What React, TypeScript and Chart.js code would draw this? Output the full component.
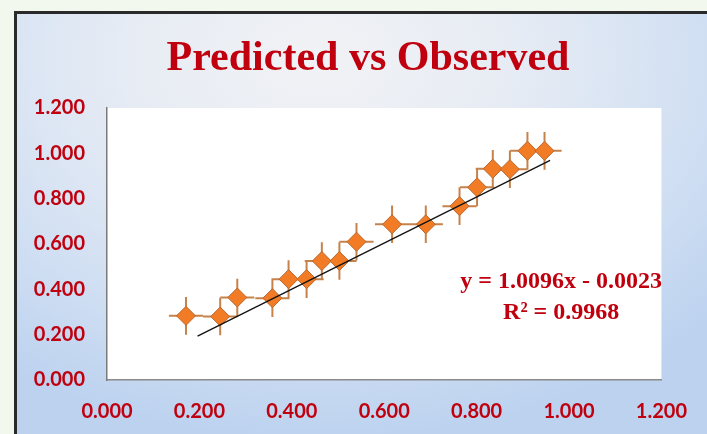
import React, { useEffect, useRef } from "react";
import { Chart, registerables } from "chart.js";

Chart.register(...registerables);

// Observed (x) vs Predicted (y) values
const observedX = [0.171, 0.245, 0.282, 0.358, 0.393, 0.432, 0.465, 0.503, 0.540, 0.617, 0.690, 0.763, 0.801, 0.835, 0.872, 0.910, 0.947];
const predictedY = [0.283, 0.280, 0.364, 0.361, 0.445, 0.445, 0.525, 0.525, 0.610, 0.687, 0.687, 0.767, 0.850, 0.932, 0.930, 1.011, 1.011];

// Error bar half-widths
const xError = [0.037, 0.037, 0.037, 0.037, 0.037, 0.037, 0.037, 0.037, 0.037, 0.037, 0.037, 0.037, 0.037, 0.037, 0.037, 0.037, 0.037];
const yError = [0.083, 0.083, 0.083, 0.083, 0.083, 0.083, 0.083, 0.083, 0.083, 0.083, 0.083, 0.083, 0.083, 0.083, 0.083, 0.083, 0.083];

// Linear trendline end points
const trendX = [0.196, 0.959];
const trendY = [0.194, 0.969];

const axisTicks = [0, 0.2, 0.4, 0.6, 0.8, 1.0, 1.2];

const titleText = "Predicted vs Observed";
const equationText = "y = 1.0096x - 0.0023";
const r2Text = "R\u00B2 = 0.9968";

const RED = "#C0000E";

export default function App() {
  const ref = useRef<HTMLCanvasElement | null>(null);

  useEffect(() => {
    if (!ref.current) return;

    const points = observedX.map((x, i) => ({ x, y: predictedY[i] }));
    const errSegments: { x: number; y: number | null }[] = [];
    observedX.forEach((x, i) => {
      const y = predictedY[i];
      errSegments.push({ x: x - xError[i], y });
      errSegments.push({ x: x + xError[i], y });
      errSegments.push({ x, y: null });
      errSegments.push({ x, y: y - yError[i] });
      errSegments.push({ x, y: y + yError[i] });
      errSegments.push({ x, y: null });
    });
    const trend = trendX.map((x, i) => ({ x, y: trendY[i] }));

    const plotBg = {
      id: "plotBg",
      beforeDraw(chart: any) {
        const { ctx, chartArea } = chart;
        ctx.save();
        ctx.fillStyle = "#ffffff";
        ctx.fillRect(chartArea.left, chartArea.top, chartArea.right - chartArea.left, chartArea.bottom - chartArea.top);
        ctx.restore();
      },
    };

    const chartTitle = {
      id: "chartTitle",
      afterDraw(chart: any) {
        const { ctx } = chart;
        ctx.save();
        ctx.fillStyle = RED;
        ctx.font = "bold 42px 'Liberation Serif', serif";
        ctx.textAlign = "center";
        ctx.textBaseline = "alphabetic";
        ctx.fillText(titleText, 368, 70);
        ctx.restore();
      },
    };

    const equation = {
      id: "equation",
      afterDatasetsDraw(chart: any) {
        const { ctx, scales } = chart;
        const cx = scales.x.getPixelForValue(0.983);
        const y1 = scales.y.getPixelForValue(0.435);
        const y2 = scales.y.getPixelForValue(0.295);
        ctx.save();
        ctx.fillStyle = RED;
        ctx.font = "bold 24px 'Liberation Serif', serif";
        ctx.textAlign = "center";
        ctx.textBaseline = "middle";
        ctx.fillText(equationText, cx, y1);
        ctx.fillText(r2Text, cx, y2);
        ctx.restore();
      },
    };

    const tickFont = { family: "Lato, 'Liberation Sans', sans-serif", size: 20, weight: "bold" as const };

    const chart = new Chart(ref.current, {
      type: "scatter",
      data: {
        datasets: [
          {
            data: trend,
            showLine: true,
            borderColor: "#141414",
            borderWidth: 1.4,
            pointRadius: 0,
            order: 0,
          } as any,
          {
            data: points,
            pointStyle: "rectRot",
            pointRadius: 9.5,
            backgroundColor: "#F27C26",
            borderColor: "#B9672C",
            borderWidth: 1,
            order: 1,
          } as any,
          {
            data: errSegments,
            showLine: true,
            spanGaps: false,
            borderColor: "#C5824B",
            borderWidth: 2,
            pointRadius: 0,
            order: 2,
          } as any,
        ],
      },
      options: {
        animation: false,
        responsive: false,
        maintainAspectRatio: false,
        layout: { padding: { left: 10, right: 42, top: 108, bottom: 0 } },
        plugins: {
          legend: { display: false },
          tooltip: { enabled: false },
          title: { display: false },
        },
        scales: {
          x: {
            type: "linear",
            min: 0,
            max: 1.2,
            afterBuildTicks: (scale: any) => {
              scale.ticks = axisTicks.map((v) => ({ value: v }));
            },
            afterFit: (scale: any) => {
              scale.height = 54;
            },
            grid: { display: false, drawTicks: false },
            border: { display: true, color: "#8a8a8a", width: 1.5 },
            ticks: {
              color: RED,
              font: tickFont,
              padding: 20,
              maxRotation: 0,
              autoSkip: false,
              callback: (v: any) => Number(v).toFixed(3),
            },
          },
          y: {
            type: "linear",
            min: 0,
            max: 1.2,
            afterBuildTicks: (scale: any) => {
              scale.ticks = axisTicks.map((v) => ({ value: v }));
            },
            afterFit: (scale: any) => {
              scale.width = 97;
            },
            grid: { display: false, drawTicks: false },
            border: { display: true, color: "#7a7a7a", width: 1.5 },
            ticks: {
              color: RED,
              font: tickFont,
              padding: 22,
              autoSkip: false,
              callback: (v: any) => Number(v).toFixed(3),
            },
          },
        },
      },
      plugins: [plotBg, equation, chartTitle],
    });

    return () => chart.destroy();
  }, []);

  return (
    <div
      style={{
        position: "fixed",
        left: 0,
        top: 0,
        width: 707,
        height: 434,
        overflow: "hidden",
        background: "#f3f8ee",
      }}
    >
      <div
        style={{
          position: "absolute",
          left: 14,
          top: 11,
          width: 720,
          height: 450,
          borderLeft: "3px solid #2a2a2a",
          borderTop: "3px solid #2a2a2a",
          background:
            "radial-gradient(ellipse 75% 85% at 42% 10%, #f1f2f5 0%, #e7ecf4 35%, #d2e0f3 70%, #bcd2ef 100%)",
        }}
      />
      <canvas ref={ref} width={707} height={434} style={{ position: "absolute", left: 0, top: 0 }} />
    </div>
  );
}
